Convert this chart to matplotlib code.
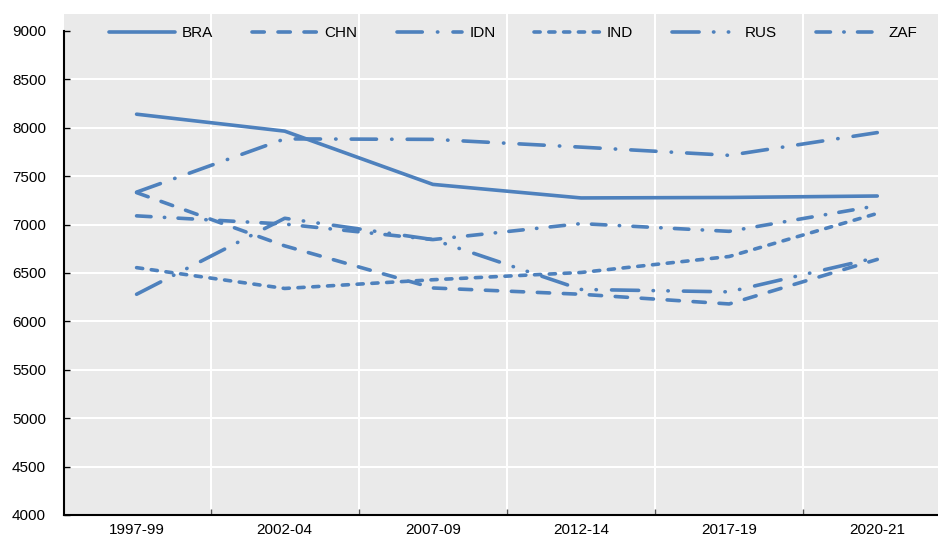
import matplotlib
matplotlib.use("Agg")
import matplotlib.pyplot as plt

# data
periods = ["1997-99", "2002-04", "2007-09", "2012-14", "2017-19", "2020-21"]
bra = [8140, 7965, 7415, 7275, 7280, 7295]
chn = [7330, 6780, 6345, 6280, 6180, 6640]
idn = [7335, 7885, 7880, 7800, 7715, 7950]
ind = [6555, 6340, 6430, 6505, 6670, 7115]
rus = [6280, 7065, 6845, 6330, 6305, 6660]
zaf = [7090, 7005, 6845, 7010, 6930, 7195]

names = ["BRA", "CHN", "IDN", "IND", "RUS", "ZAF"]
series = [bra, chn, idn, ind, rus, zaf]

# line styles (round caps, so dashes are a bit shorter than they look)
styles = [
    "-",
    (0, (3.4, 3.8)),
    (0, (7.0, 4.2, 0.1, 4.2)),
    (0, (1.7, 2.4)),
    (0, (7.5, 4.0, 0.1, 4.0, 0.1, 4.2)),
    (0, (4.0, 3.7, 0.1, 3.7)),
]

blue = "#4E81BD"
plt.rcParams["font.family"] = ["Liberation Sans", "DejaVu Sans"]

fig = plt.figure(figsize=(9.38, 5.38), dpi=100)
ax = fig.add_axes([64 / 938, 23 / 538, 1 - 64 / 938, (538 - 14 - 23) / 538])
ax.set_facecolor("#EAEAEA")

x = list(range(len(periods)))
for name, vals, ls in zip(names, series, styles):
    ax.plot(x, vals, color=blue, lw=2.6, linestyle=ls, label=name,
            dash_capstyle="round", solid_capstyle="round")

ax.set_xlim(-0.49, 5.41)
ax.set_ylim(4000, 9175)

# white grid
for y in range(4500, 9000, 500):
    ax.axhline(y, color="white", lw=1.5, zorder=0.5)
for i in range(len(periods) - 1):
    ax.axvline(i + 0.5, color="white", lw=1.5, zorder=0.5)

ax.set_yticks(range(4000, 9001, 500))
ax.set_xticks(x)
ax.set_xticklabels(periods)
ax.set_xticks([i + 0.5 for i in range(len(periods) - 1)], minor=True)
ax.tick_params(axis="y", direction="in", length=4, width=1, pad=13, labelsize=11)
ax.tick_params(axis="x", which="major", length=0, pad=6, labelsize=11)
ax.tick_params(axis="x", which="minor", direction="in", length=4, width=1, color="#555555")

for s in ["top", "right"]:
    ax.spines[s].set_visible(False)
ax.spines["left"].set_bounds(4000, 9000)
ax.spines["left"].set_linewidth(1.5)
ax.spines["bottom"].set_linewidth(1.5)

ax.legend(loc="center", bbox_to_anchor=(0.514, 0.962), ncol=6, frameon=False,
          fontsize=11, handlelength=4.3, handletextpad=0.45, columnspacing=2.55)

fig.savefig("out.png", dpi=100)
